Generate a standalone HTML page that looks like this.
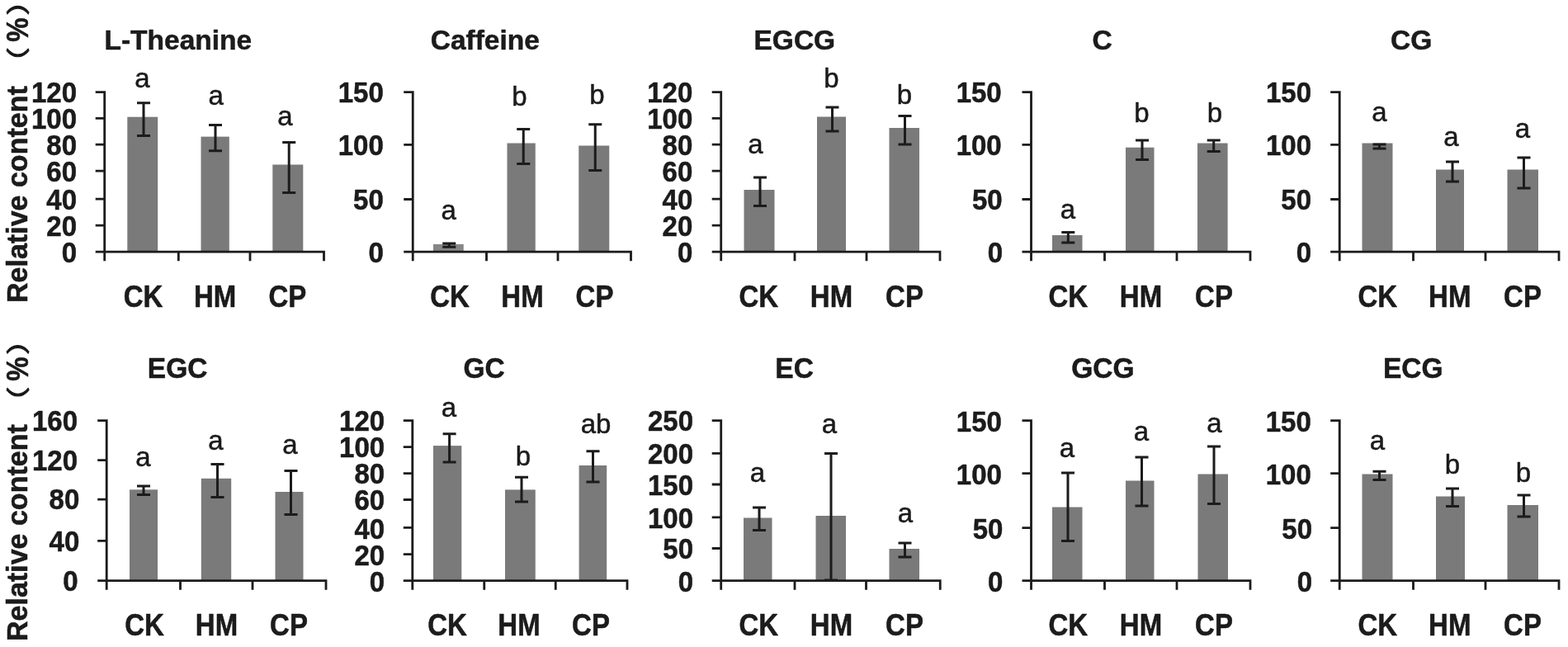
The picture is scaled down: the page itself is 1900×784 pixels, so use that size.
<!DOCTYPE html>
<html lang="en">
<head>
<meta charset="utf-8">
<title>Relative content of tea metabolites</title>
<style>
html,body{margin:0;padding:0;background:#fff;}
body{width:1900px;height:784px;}
svg{display:block;}
text{font-family:'Liberation Sans', sans-serif;fill:#1a1a1a;stroke:#1a1a1a;stroke-width:0.5px;stroke-linejoin:round;}
.b{font-weight:bold;font-size:33px;}
.r{font-weight:normal;font-size:33px;}
.cj{font-family:'Liberation Sans','Noto Sans CJK SC',sans-serif;font-weight:normal;font-size:30px;stroke-width:0.9px;}
</style>
</head>
<body>
<svg width="1900" height="784" viewBox="0 0 1900 784">
<defs><filter id="soft" filterUnits="userSpaceOnUse" x="0" y="0" width="1900" height="784"><feGaussianBlur stdDeviation="0.45"/></filter></defs>
<rect width="1900" height="784" fill="#fff"/>
<g filter="url(#soft)">
<g>
<rect x="154.3" y="141.7" width="36.9" height="163.5" fill="#7a7a7a"/>
<rect x="243.5" y="165.6" width="34.3" height="139.6" fill="#7a7a7a"/>
<rect x="330.3" y="199.5" width="37" height="105.7" fill="#7a7a7a"/>
<path d="M126.7 110.2V316.2M115.7 305.2H393.9M115.7 111.6H126.7M115.7 143.4H126.7M115.7 175.2H126.7M115.7 207.1H126.7M115.7 241.2H126.7M115.7 273.1H126.7M216.3 305.2V316.2M303 305.2V316.2M392.5 305.2V316.2" stroke="#1a1a1a" stroke-width="2.8" fill="none"/>
<path d="M174 124.8V164.4M166 124.8H182M166 164.4H182M261 151.6V182.8M253 151.6H269M253 182.8H269M350.2 172.6V233.5M342.2 172.6H358.2M342.2 233.5H358.2" stroke="#1a1a1a" stroke-width="3.0" fill="none"/>
<text class="b" text-anchor="end" transform="translate(93 124.25) scale(1 1.08)">120</text>
<text class="b" text-anchor="end" transform="translate(93 156.05) scale(1 1.08)">100</text>
<text class="b" text-anchor="end" transform="translate(93 187.85) scale(1 1.08)">80</text>
<text class="b" text-anchor="end" transform="translate(93 219.75) scale(1 1.08)">60</text>
<text class="b" text-anchor="end" transform="translate(93 253.85) scale(1 1.08)">40</text>
<text class="b" text-anchor="end" transform="translate(93 285.75) scale(1 1.08)">20</text>
<text class="b" text-anchor="end" transform="translate(93 317.85) scale(1 1.08)">0</text>
<text class="b" text-anchor="middle" transform="translate(173.5 371.5) scale(1 1.12)">CK</text>
<text class="b" text-anchor="middle" transform="translate(260.6 371.5) scale(1 1.12)">HM</text>
<text class="b" text-anchor="middle" transform="translate(348.4 371.5) scale(1 1.12)">CP</text>
<text class="b" transform="translate(126.5 60) scale(1.015 1.025)">L-Theanine</text>
<text class="r" text-anchor="middle" transform="translate(172.4 106)">a</text>
<text class="r" text-anchor="middle" transform="translate(261.6 126.7)">a</text>
<text class="r" text-anchor="middle" transform="translate(345.5 151.9)">a</text>
</g>
<g>
<rect x="525" y="295.9" width="36.75" height="9.3" fill="#878787"/>
<rect x="614.5" y="173.5" width="34.25" height="131.7" fill="#7a7a7a"/>
<rect x="701.25" y="176.5" width="37" height="128.7" fill="#7a7a7a"/>
<path d="M500.25 110.2V316.2M489.25 305.2H765.9M489.25 111.6H500.25M489.25 175.4H500.25M489.25 241.5H500.25M589.5 305.2V316.2M676 305.2V316.2M764.5 305.2V316.2" stroke="#1a1a1a" stroke-width="2.8" fill="none"/>
<path d="M544.25 294.9V299.2M536.25 294.9H552.25M536.25 299.2H552.25M634.25 156.5V198.5M626.25 156.5H642.25M626.25 198.5H642.25M721.25 150.75V206.5M713.25 150.75H729.25M713.25 206.5H729.25" stroke="#1a1a1a" stroke-width="3.0" fill="none"/>
<text class="b" text-anchor="end" transform="translate(464.8 124.25) scale(1 1.08)">150</text>
<text class="b" text-anchor="end" transform="translate(464.8 188.05) scale(1 1.08)">100</text>
<text class="b" text-anchor="end" transform="translate(464.8 254.15) scale(1 1.08)">50</text>
<text class="b" text-anchor="end" transform="translate(464.8 317.85) scale(1 1.08)">0</text>
<text class="b" text-anchor="middle" transform="translate(545 371.5) scale(1 1.12)">CK</text>
<text class="b" text-anchor="middle" transform="translate(633 371.5) scale(1 1.12)">HM</text>
<text class="b" text-anchor="middle" transform="translate(720.5 371.5) scale(1 1.12)">CP</text>
<text class="b" transform="translate(521.7 60) scale(1.015 1.025)">Caffeine</text>
<text class="r" text-anchor="middle" transform="translate(543.75 266)">a</text>
<text class="r" text-anchor="middle" transform="translate(629.3 127.5)">b</text>
<text class="r" text-anchor="middle" transform="translate(723.5 126.3)">b</text>
</g>
<g>
<rect x="901.5" y="230" width="37" height="75.2" fill="#7a7a7a"/>
<rect x="990" y="141.5" width="35" height="163.7" fill="#7a7a7a"/>
<rect x="1077.5" y="155" width="36.5" height="150.2" fill="#7a7a7a"/>
<path d="M873.7 110.2V316.2M862.7 305.2H1140.4M862.7 111.6H873.7M862.7 143.4H873.7M862.7 175.2H873.7M862.7 207.1H873.7M862.7 241.2H873.7M862.7 273.1H873.7M963 305.2V316.2M1050 305.2V316.2M1139 305.2V316.2" stroke="#1a1a1a" stroke-width="2.8" fill="none"/>
<path d="M921 215V249.5M913 215H929M913 249.5H929M1008.5 130V159M1000.5 130H1016.5M1000.5 159H1016.5M1096.5 140.5V175M1088.5 140.5H1104.5M1088.5 175H1104.5" stroke="#1a1a1a" stroke-width="3.0" fill="none"/>
<text class="b" text-anchor="end" transform="translate(839.3 124.25) scale(1 1.08)">120</text>
<text class="b" text-anchor="end" transform="translate(839.3 156.05) scale(1 1.08)">100</text>
<text class="b" text-anchor="end" transform="translate(839.3 187.85) scale(1 1.08)">80</text>
<text class="b" text-anchor="end" transform="translate(839.3 219.75) scale(1 1.08)">60</text>
<text class="b" text-anchor="end" transform="translate(839.3 253.85) scale(1 1.08)">40</text>
<text class="b" text-anchor="end" transform="translate(839.3 285.75) scale(1 1.08)">20</text>
<text class="b" text-anchor="end" transform="translate(839.3 317.85) scale(1 1.08)">0</text>
<text class="b" text-anchor="middle" transform="translate(919.25 371.5) scale(1 1.12)">CK</text>
<text class="b" text-anchor="middle" transform="translate(1007.5 371.5) scale(1 1.12)">HM</text>
<text class="b" text-anchor="middle" transform="translate(1096 371.5) scale(1 1.12)">CP</text>
<text class="b" transform="translate(913.5 60) scale(1.015 1.025)">EGCG</text>
<text class="r" text-anchor="middle" transform="translate(915.5 186)">a</text>
<text class="r" text-anchor="middle" transform="translate(1007.5 106)">b</text>
<text class="r" text-anchor="middle" transform="translate(1096 125.5)">b</text>
</g>
<g>
<rect x="1275" y="285" width="36.5" height="20.2" fill="#7a7a7a"/>
<rect x="1364" y="178.7" width="34.5" height="126.5" fill="#7a7a7a"/>
<rect x="1451" y="173.5" width="36.6" height="131.7" fill="#7a7a7a"/>
<path d="M1249.5 110.2V316.2M1238.5 305.2H1516.4M1238.5 111.6H1249.5M1238.5 175.4H1249.5M1238.5 241.5H1249.5M1338.5 305.2V316.2M1426 305.2V316.2M1515 305.2V316.2" stroke="#1a1a1a" stroke-width="2.8" fill="none"/>
<path d="M1294.3 281.5V294M1286.3 281.5H1302.3M1286.3 294H1302.3M1384 170V193.5M1376 170H1392M1376 193.5H1392M1470.7 170V183.5M1462.7 170H1478.7M1462.7 183.5H1478.7" stroke="#1a1a1a" stroke-width="3.0" fill="none"/>
<text class="b" text-anchor="end" transform="translate(1213.7 124.25) scale(1 1.08)">150</text>
<text class="b" text-anchor="end" transform="translate(1213.7 188.05) scale(1 1.08)">100</text>
<text class="b" text-anchor="end" transform="translate(1214.7 254.15) scale(1 1.08)">50</text>
<text class="b" text-anchor="end" transform="translate(1215.2 317.85) scale(1 1.08)">0</text>
<text class="b" text-anchor="middle" transform="translate(1294.25 371.5) scale(1 1.12)">CK</text>
<text class="b" text-anchor="middle" transform="translate(1382.5 371.5) scale(1 1.12)">HM</text>
<text class="b" text-anchor="middle" transform="translate(1471 371.5) scale(1 1.12)">CP</text>
<text class="b" transform="translate(1323.5 60) scale(1.015 1.025)">C</text>
<text class="r" text-anchor="middle" transform="translate(1293.8 265)">a</text>
<text class="r" text-anchor="middle" transform="translate(1383.5 147.5)">b</text>
<text class="r" text-anchor="middle" transform="translate(1472 147.5)">b</text>
</g>
<g>
<rect x="1650.5" y="173.5" width="37" height="131.7" fill="#7a7a7a"/>
<rect x="1740" y="205.5" width="34" height="99.7" fill="#7a7a7a"/>
<rect x="1826.5" y="205.5" width="37.5" height="99.7" fill="#7a7a7a"/>
<path d="M1623.2 110.2V316.2M1612.2 305.2H1890.4M1612.2 111.6H1623.2M1612.2 175.4H1623.2M1612.2 241.5H1623.2M1712.5 305.2V316.2M1800 305.2V316.2M1889 305.2V316.2" stroke="#1a1a1a" stroke-width="2.8" fill="none"/>
<path d="M1671.5 175V180M1663.5 175H1679.5M1663.5 180H1679.5M1760 196V220M1752 196H1768M1752 220H1768M1846.5 191V228M1838.5 191H1854.5M1838.5 228H1854.5" stroke="#1a1a1a" stroke-width="3.0" fill="none"/>
<text class="b" text-anchor="end" transform="translate(1589 124.25) scale(1 1.08)">150</text>
<text class="b" text-anchor="end" transform="translate(1589 188.05) scale(1 1.08)">100</text>
<text class="b" text-anchor="end" transform="translate(1589 254.15) scale(1 1.08)">50</text>
<text class="b" text-anchor="end" transform="translate(1589 317.85) scale(1 1.08)">0</text>
<text class="b" text-anchor="middle" transform="translate(1669.25 371.5) scale(1 1.12)">CK</text>
<text class="b" text-anchor="middle" transform="translate(1756.75 371.5) scale(1 1.12)">HM</text>
<text class="b" text-anchor="middle" transform="translate(1845 371.5) scale(1 1.12)">CP</text>
<text class="b" transform="translate(1685 60) scale(1.015 1.025)">CG</text>
<text class="r" text-anchor="middle" transform="translate(1671.5 146.5)">a</text>
<text class="r" text-anchor="middle" transform="translate(1758.5 176.5)">a</text>
<text class="r" text-anchor="middle" transform="translate(1845 166.5)">a</text>
</g>
<g>
<rect x="157" y="593.3" width="34" height="110.4" fill="#7a7a7a"/>
<rect x="243.8" y="579.8" width="36.4" height="123.9" fill="#7a7a7a"/>
<rect x="333.5" y="596" width="34" height="107.7" fill="#7a7a7a"/>
<path d="M129.2 508.2V714.7M118.2 703.7H396.4M118.2 509.6H129.2M118.2 557.6H129.2M118.2 605.2H129.2M118.2 655.3H129.2M218.5 703.7V714.7M306 703.7V714.7M395 703.7V714.7" stroke="#1a1a1a" stroke-width="2.8" fill="none"/>
<path d="M174 589V599.5M166 589H182M166 599.5H182M263.5 562.5V602.5M255.5 562.5H271.5M255.5 602.5H271.5M352.5 570.5V623.5M344.5 570.5H360.5M344.5 623.5H360.5" stroke="#1a1a1a" stroke-width="3.0" fill="none"/>
<text class="b" text-anchor="end" transform="translate(94 521.8) scale(1 1.08)">160</text>
<text class="b" text-anchor="end" transform="translate(94 569.8) scale(1 1.08)">120</text>
<text class="b" text-anchor="end" transform="translate(96.3 617.4) scale(1 1.08)">80</text>
<text class="b" text-anchor="end" transform="translate(96.3 667.5) scale(1 1.08)">40</text>
<text class="b" text-anchor="end" transform="translate(94.5 715.9) scale(1 1.08)">0</text>
<text class="b" text-anchor="middle" transform="translate(175 769.5) scale(1 1.12)">CK</text>
<text class="b" text-anchor="middle" transform="translate(262.5 769.5) scale(1 1.12)">HM</text>
<text class="b" text-anchor="middle" transform="translate(350 769.5) scale(1 1.12)">CP</text>
<text class="b" transform="translate(178.8 458.3) scale(1.015 1.045)">EGC</text>
<text class="r" text-anchor="middle" transform="translate(173.5 564.5)">a</text>
<text class="r" text-anchor="middle" transform="translate(261.5 544.5)">a</text>
<text class="r" text-anchor="middle" transform="translate(351.5 549.5)">a</text>
</g>
<g>
<rect x="525" y="540.1" width="34.3" height="163.6" fill="#7a7a7a"/>
<rect x="612" y="593.4" width="36.75" height="110.3" fill="#7a7a7a"/>
<rect x="701.6" y="564" width="33.6" height="139.7" fill="#7a7a7a"/>
<path d="M499.8 508.2V714.7M488.8 703.7H761.4M488.8 509.6H499.8M488.8 541.6H499.8M488.8 573.6H499.8M488.8 605.5H499.8M488.8 639.4H499.8M488.8 671.6H499.8M586.75 703.7V714.7M673.25 703.7V714.7M760 703.7V714.7" stroke="#1a1a1a" stroke-width="2.8" fill="none"/>
<path d="M544.6 525.7V560M536.6 525.7H552.6M536.6 560H552.6M632 578.3V608M624 578.3H640M624 608H640M718.5 546.8V584M710.5 546.8H726.5M710.5 584H726.5" stroke="#1a1a1a" stroke-width="3.0" fill="none"/>
<text class="b" text-anchor="end" transform="translate(466.1 521.85) scale(1 1.08)">120</text>
<text class="b" text-anchor="end" transform="translate(466.1 554.07) scale(1 1.08)">100</text>
<text class="b" text-anchor="end" transform="translate(466.1 586.28) scale(1 1.08)">80</text>
<text class="b" text-anchor="end" transform="translate(466.1 618.4) scale(1 1.08)">60</text>
<text class="b" text-anchor="end" transform="translate(466.1 652.52) scale(1 1.08)">40</text>
<text class="b" text-anchor="end" transform="translate(466.1 684.93) scale(1 1.08)">20</text>
<text class="b" text-anchor="end" transform="translate(466.1 717.25) scale(1 1.08)">0</text>
<text class="b" text-anchor="middle" transform="translate(542 769.5) scale(1 1.12)">CK</text>
<text class="b" text-anchor="middle" transform="translate(629 769.5) scale(1 1.12)">HM</text>
<text class="b" text-anchor="middle" transform="translate(716 769.5) scale(1 1.12)">CP</text>
<text class="b" transform="translate(561.5 458.3) scale(1.015 1.045)">GC</text>
<text class="r" text-anchor="middle" transform="translate(544 505.2)">a</text>
<text class="r" text-anchor="middle" transform="translate(634 564.2)">b</text>
<text class="r" text-anchor="middle" transform="translate(722 524.7)">ab</text>
</g>
<g>
<rect x="901" y="627.5" width="34.5" height="76.2" fill="#7a7a7a"/>
<rect x="988.5" y="625" width="36.5" height="78.7" fill="#7a7a7a"/>
<rect x="1077.5" y="665" width="36.5" height="38.7" fill="#7a7a7a"/>
<path d="M873.7 508.2V714.7M862.7 703.7H1140.65M862.7 509.6H873.7M862.7 549.3H873.7M862.7 587H873.7M862.7 626.8H873.7M862.7 664.5H873.7M963 703.7V714.7M1049.5 703.7V714.7M1139.25 703.7V714.7" stroke="#1a1a1a" stroke-width="2.8" fill="none"/>
<path d="M920 615V642.5M912 615H928M912 642.5H928M1007 549.5V703M999 549.5H1015M999 703H1015M1096.5 658V675M1088.5 658H1104.5M1088.5 675H1104.5" stroke="#1a1a1a" stroke-width="3.0" fill="none"/>
<text class="b" text-anchor="end" transform="translate(840 522.45) scale(1 1.08)">250</text>
<text class="b" text-anchor="end" transform="translate(840 562.15) scale(1 1.08)">200</text>
<text class="b" text-anchor="end" transform="translate(840 599.85) scale(1 1.08)">150</text>
<text class="b" text-anchor="end" transform="translate(840 639.65) scale(1 1.08)">100</text>
<text class="b" text-anchor="end" transform="translate(840 677.35) scale(1 1.08)">50</text>
<text class="b" text-anchor="end" transform="translate(840 716.55) scale(1 1.08)">0</text>
<text class="b" text-anchor="middle" transform="translate(919.25 769.5) scale(1 1.12)">CK</text>
<text class="b" text-anchor="middle" transform="translate(1007.5 769.5) scale(1 1.12)">HM</text>
<text class="b" text-anchor="middle" transform="translate(1096 769.5) scale(1 1.12)">CP</text>
<text class="b" transform="translate(939.3 458.3) scale(1.015 1.045)">EC</text>
<text class="r" text-anchor="middle" transform="translate(918 583.5)">a</text>
<text class="r" text-anchor="middle" transform="translate(1005 524.7)">a</text>
<text class="r" text-anchor="middle" transform="translate(1097 633)">a</text>
</g>
<g>
<rect x="1275" y="614.5" width="36.5" height="89.2" fill="#7a7a7a"/>
<rect x="1364" y="582.5" width="34.5" height="121.2" fill="#7a7a7a"/>
<rect x="1451.5" y="574.5" width="36.5" height="129.2" fill="#7a7a7a"/>
<path d="M1249.5 508.2V714.7M1238.5 703.7H1516.4M1238.5 509.6H1249.5M1238.5 573.6H1249.5M1238.5 639.6H1249.5M1338.5 703.7V714.7M1426 703.7V714.7M1515 703.7V714.7" stroke="#1a1a1a" stroke-width="2.8" fill="none"/>
<path d="M1294 573V655.5M1286 573H1302M1286 655.5H1302M1383.5 554V613M1375.5 554H1391.5M1375.5 613H1391.5M1471 541V610.5M1463 541H1479M1463 610.5H1479" stroke="#1a1a1a" stroke-width="3.0" fill="none"/>
<text class="b" text-anchor="end" transform="translate(1213.9 522.85) scale(1 1.08)">150</text>
<text class="b" text-anchor="end" transform="translate(1213.9 586.85) scale(1 1.08)">100</text>
<text class="b" text-anchor="end" transform="translate(1215.4 652.85) scale(1 1.08)">50</text>
<text class="b" text-anchor="end" transform="translate(1215.4 716.95) scale(1 1.08)">0</text>
<text class="b" text-anchor="middle" transform="translate(1294.25 769.5) scale(1 1.12)">CK</text>
<text class="b" text-anchor="middle" transform="translate(1382.5 769.5) scale(1 1.12)">HM</text>
<text class="b" text-anchor="middle" transform="translate(1471 769.5) scale(1 1.12)">CP</text>
<text class="b" transform="translate(1298.2 458.3) scale(1.015 1.045)">GCG</text>
<text class="r" text-anchor="middle" transform="translate(1293 553.5)">a</text>
<text class="r" text-anchor="middle" transform="translate(1383 533.5)">a</text>
<text class="r" text-anchor="middle" transform="translate(1471.5 523.5)">a</text>
</g>
<g>
<rect x="1650.5" y="574.5" width="37" height="129.2" fill="#7a7a7a"/>
<rect x="1740" y="601.5" width="35" height="102.2" fill="#7a7a7a"/>
<rect x="1826.5" y="612" width="37.5" height="91.7" fill="#7a7a7a"/>
<path d="M1623.2 508.2V714.7M1612.2 703.7H1890.4M1612.2 509.6H1623.2M1612.2 573.6H1623.2M1612.2 639.6H1623.2M1712.5 703.7V714.7M1800 703.7V714.7M1889 703.7V714.7" stroke="#1a1a1a" stroke-width="2.8" fill="none"/>
<path d="M1671.5 571.2V581.5M1663.5 571.2H1679.5M1663.5 581.5H1679.5M1760 592V613.5M1752 592H1768M1752 613.5H1768M1846.5 600V626M1838.5 600H1854.5M1838.5 626H1854.5" stroke="#1a1a1a" stroke-width="3.0" fill="none"/>
<text class="b" text-anchor="end" transform="translate(1588.8 522.85) scale(1 1.08)">150</text>
<text class="b" text-anchor="end" transform="translate(1588.8 586.85) scale(1 1.08)">100</text>
<text class="b" text-anchor="end" transform="translate(1590 652.85) scale(1 1.08)">50</text>
<text class="b" text-anchor="end" transform="translate(1590 716.95) scale(1 1.08)">0</text>
<text class="b" text-anchor="middle" transform="translate(1669.25 769.5) scale(1 1.12)">CK</text>
<text class="b" text-anchor="middle" transform="translate(1756.75 769.5) scale(1 1.12)">HM</text>
<text class="b" text-anchor="middle" transform="translate(1845 769.5) scale(1 1.12)">CP</text>
<text class="b" transform="translate(1676 458.3) scale(1.015 1.045)">ECG</text>
<text class="r" text-anchor="middle" transform="translate(1669 544.5)">a</text>
<text class="r" text-anchor="middle" transform="translate(1760 573.5)">b</text>
<text class="r" text-anchor="middle" transform="translate(1846 583.5)">b</text>
</g>
<text class="b" transform="translate(33.2 367) rotate(-90) scale(1.031 1.06)">Relative content</text>
<text class="cj" text-anchor="middle" transform="translate(33.2 76) rotate(-90) scale(1.25 0.95)">（</text>
<text class="b" text-anchor="middle" transform="translate(34.2 36) rotate(-90) scale(1 1.1)">%</text>
<text class="cj" text-anchor="middle" transform="translate(33.2 0) rotate(-90) scale(1.25 0.95)">）</text>
<text class="b" transform="translate(33.2 777) rotate(-90) scale(1.031 1.06)">Relative content</text>
<text class="cj" text-anchor="middle" transform="translate(33.2 487.2) rotate(-90) scale(1.25 0.95)">（</text>
<text class="b" text-anchor="middle" transform="translate(34.2 447.2) rotate(-90) scale(1 1.1)">%</text>
<text class="cj" text-anchor="middle" transform="translate(33.2 411.2) rotate(-90) scale(1.25 0.95)">）</text>
</g>
</svg>
</body>
</html>
